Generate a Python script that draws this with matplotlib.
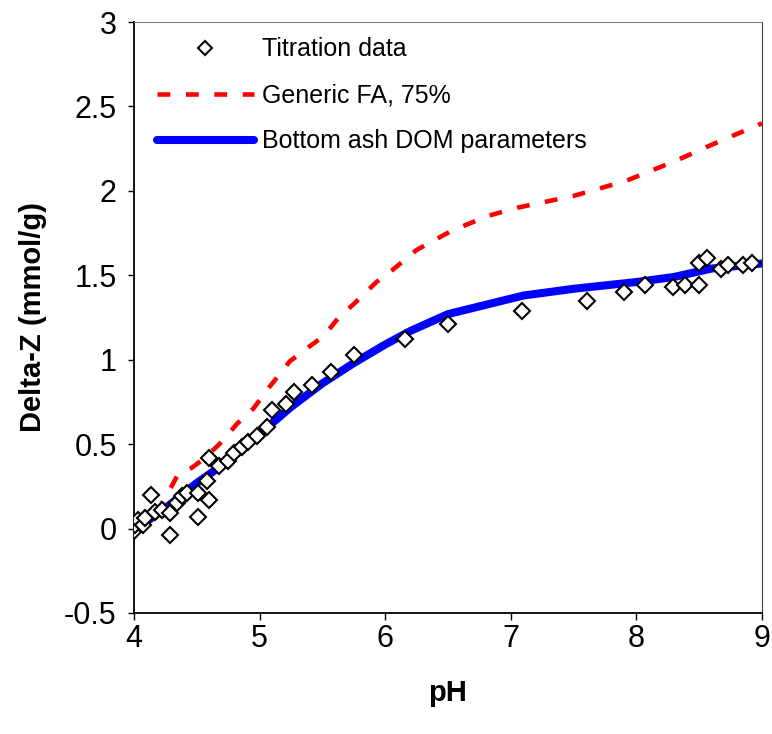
import numpy as np
import matplotlib
matplotlib.use("Agg")
from matplotlib import pyplot as plt

plt.rcParams['font.family'] = ['Liberation Sans', 'DejaVu Sans']

# titration data
ph_data = [3.99, 4.01, 4.03, 4.07, 4.09, 4.135, 4.17, 4.22, 4.29, 4.29, 4.34, 4.38,
           4.42, 4.51, 4.51, 4.58, 4.60, 4.60, 4.68, 4.75, 4.80, 4.86, 4.91, 4.98,
           5.06, 5.10, 5.21, 5.27, 5.42, 5.57, 5.75, 6.16, 6.50, 7.09, 7.61, 7.90,
           8.07, 8.29, 8.39, 8.50, 8.50, 8.56, 8.67, 8.73, 8.85, 8.92]
dz_data = [-0.02, 0.02, 0.05, 0.02, 0.06, 0.20, 0.10, 0.11, -0.04, 0.09, 0.15, 0.19,
           0.21, 0.07, 0.21, 0.28, 0.17, 0.42, 0.37, 0.40, 0.45, 0.48, 0.51, 0.55,
           0.60, 0.70, 0.74, 0.81, 0.85, 0.93, 1.03, 1.12, 1.21, 1.29, 1.35, 1.40,
           1.44, 1.43, 1.44, 1.44, 1.57, 1.60, 1.54, 1.56, 1.56, 1.57]

# generic FA, 75%
ph_fa = [4.0, 4.1, 4.2, 4.27, 4.35, 4.46, 4.55, 4.68, 4.82, 4.95, 5.08, 5.24, 5.4,
         5.51, 5.63, 5.75, 5.93, 6.04, 6.25, 6.52, 6.81, 7.05, 7.5, 7.92, 8.32, 8.59, 9.0]
dz_fa = [-0.01, 0.05, 0.12, 0.21, 0.32, 0.36, 0.41, 0.50, 0.62, 0.71, 0.84, 0.99, 1.08,
         1.14, 1.25, 1.33, 1.46, 1.52, 1.65, 1.76, 1.85, 1.90, 1.97, 2.06, 2.18, 2.27, 2.40]

# bottom ash DOM parameters
ph_dom = [4.0, 4.25, 4.5, 4.75, 5.0, 5.25, 5.5, 5.75, 6.0, 6.2, 6.5, 7.1, 7.5, 8.0,
          8.3, 8.6, 9.0]
dz_dom = [-0.01, 0.12, 0.27, 0.40, 0.56, 0.72, 0.86, 0.98, 1.09, 1.17, 1.27, 1.38,
          1.42, 1.46, 1.49, 1.54, 1.57]

fig = plt.figure(figsize=(7.72, 7.34), dpi=100)
ax = fig.add_axes([0.1736, 0.1649, 0.8134, 0.8051])

ax.plot(ph_dom, dz_dom, color='#0000ff', lw=5.8, solid_capstyle='round',
        label='Bottom ash DOM parameters', zorder=2)
ax.plot(ph_fa, dz_fa, color='#ff0000', lw=3.3, dashes=(2.8, 3.4),
        label='Generic FA, 75%', zorder=3)
ax.plot(ph_data, dz_data, ls='none', marker='D', ms=8.5, mfc='white', mec='black',
        mew=1.5, label='Titration data', zorder=4)

ax.set_xlim(4, 9)
ax.set_ylim(-0.5, 3)
ax.set_xticks(np.arange(4, 10, 1))
ax.set_yticks(np.arange(-0.5, 3.01, 0.5))
ax.set_yticklabels(['-0.5', '0', '0.5', '1', '1.5', '2', '2.5', '3'])
ax.tick_params(axis='both', direction='out', labelsize=22, width=1)
ax.tick_params(axis='y', length=4.5, pad=8)
ax.tick_params(axis='x', length=5, pad=3)

ax.set_xlabel('pH', fontsize=21, fontweight='bold', labelpad=18)
ax.set_ylabel('Delta-Z (mmol/g)', fontsize=21, fontweight='bold', labelpad=12)

for s in ['left', 'bottom']:
    ax.spines[s].set_linewidth(1.3)
ax.spines['top'].set_color('#808080')
ax.spines['right'].set_color('#404040')

handles, labels = ax.get_legend_handles_labels()
leg = ax.legend(handles[::-1], labels[::-1], loc='upper left',
                bbox_to_anchor=(0.0, 1.012), frameon=False, fontsize=18,
                handlelength=3.9, handletextpad=0.3, labelspacing=0.88,
                markerscale=0.85)

fig.savefig('out.png', dpi=100)
